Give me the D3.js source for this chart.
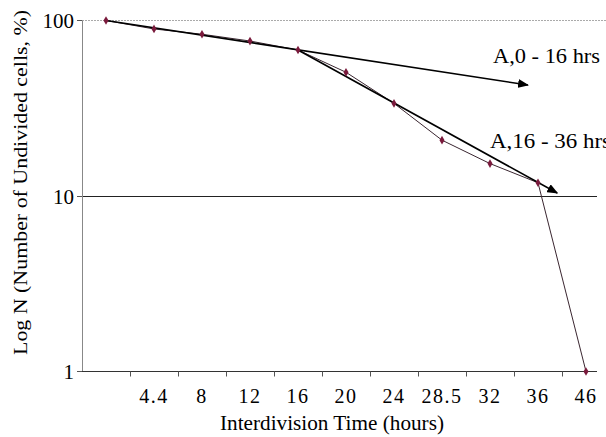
<!DOCTYPE html>
<html lang="en">
<head>
<meta charset="UTF-8" />
<title>Interdivision Time</title>
<script src="https://d3js.org/d3.v7.min.js"></script>
<style>
    body { margin: 0; background: #fff; }
    svg { display: block; }
    text { font-family: "Liberation Serif", "DejaVu Serif", serif; }
</style>
</head>
<body>
<svg id="chart" width="606" height="437"></svg>
<script>
// categories on the x axis (hours); first one has no label
const hours = ["0", "4.4", "8", "12", "16", "20", "24", "28.5", "32", "36", "46"];
// percentage of undivided cells
const undivided = [100, 89.5, 83.5, 76.4, 67.9, 50.7, 33.7, 20.8, 15.3, 11.9, 1];
// trend arrows: [start index, start value, end index, end value]
const trendA = [0, 100, 8.79, 42.9];
const trendB = [4, 67.9, 9.4, 10.4];
const trendLabels = ["A,0 - 16 hrs", "A,16 - 36 hrs"];
const yTicks = [1, 10, 100];

const svg = d3.select("#chart");
const mLeft = 82, mRight = 610, mTop = 20.5, mBottom = 371.5;

const x = d3.scaleBand().domain(hours).range([mLeft, mRight]);
const xi = i => mLeft + (i + 0.5) * x.step();
const y = d3.scaleLog().domain([1, 100]).range([mBottom, mTop]);
const crisp = v => Math.round(v - 0.5) + 0.5;

svg.append("defs").append("marker")
    .attr("id", "arrow")
    .attr("viewBox", "0 0 10 10")
    .attr("refX", 9).attr("refY", 5)
    .attr("markerWidth", 11).attr("markerHeight", 9)
    .attr("markerUnits", "userSpaceOnUse")
    .attr("orient", "auto")
    .attr("preserveAspectRatio", "none")
    .append("path").attr("d", "M0,0 L10,5 L0,10 Z").attr("fill", "#000");

// gridlines
svg.append("line")
    .attr("x1", mLeft).attr("x2", 606)
    .attr("y1", crisp(y(100))).attr("y2", crisp(y(100)))
    .attr("stroke", "#aaa").attr("stroke-width", 1).attr("stroke-dasharray", "2,1");
svg.append("line")
    .attr("x1", mLeft).attr("x2", 597)
    .attr("y1", crisp(y(10))).attr("y2", crisp(y(10)))
    .attr("stroke", "#222").attr("stroke-width", 1);

// y axis
svg.append("line")
    .attr("x1", crisp(mLeft)).attr("x2", crisp(mLeft))
    .attr("y1", mTop).attr("y2", mBottom)
    .attr("stroke", "#888");
const yt = svg.append("g");
yt.selectAll("line").data(yTicks).join("line")
    .attr("x1", mLeft - 5).attr("x2", mLeft)
    .attr("y1", d => crisp(y(d))).attr("y2", d => crisp(y(d)))
    .attr("stroke", "#555");
yt.selectAll("text").data(yTicks).join("text")
    .attr("x", mLeft - 8).attr("y", d => y(d) + 7.5)
    .attr("text-anchor", "end")
    .attr("font-size", 21)
    .text(d => d);

// x axis
svg.append("line")
    .attr("x1", mLeft).attr("x2", 597)
    .attr("y1", crisp(mBottom)).attr("y2", crisp(mBottom))
    .attr("stroke", "#333");
const xt = svg.append("g");
xt.selectAll("line").data(hours.slice(1)).join("line")
    .attr("x1", d => crisp(x(d))).attr("x2", d => crisp(x(d)))
    .attr("y1", mBottom).attr("y2", mBottom + 5)
    .attr("stroke", "#555");
xt.selectAll("text").data(hours.slice(1)).join("text")
    .attr("x", d => x(d) + x.bandwidth() / 2)
    .attr("y", 403)
    .attr("text-anchor", "middle")
    .attr("font-size", 20)
    .attr("letter-spacing", 1.5)
    .text(d => d);

// axis titles
svg.append("text")
    .attr("x", 220).attr("y", 430)
    .attr("font-size", 20)
    .attr("textLength", 224)
    .attr("lengthAdjust", "spacingAndGlyphs")
    .text("Interdivision Time (hours)");
svg.append("text")
    .attr("transform", "translate(27,355) rotate(-90)")
    .attr("font-size", 18)
    .attr("textLength", 345)
    .attr("lengthAdjust", "spacingAndGlyphs")
    .text("Log N (Number of Undivided cells, %)");

// data line
svg.append("path")
    .datum(undivided)
    .attr("fill", "none")
    .attr("stroke", "#3a2630")
    .attr("stroke-width", 1)
    .attr("d", d3.line().x((d, i) => xi(i)).y(d => y(d)));

// trend arrows
[trendA, trendB].forEach(t => {
    svg.append("line")
        .attr("x1", xi(t[0])).attr("y1", y(t[1]))
        .attr("x2", xi(t[2])).attr("y2", y(t[3]))
        .attr("stroke", "#000").attr("stroke-width", 1.6)
        .attr("marker-end", "url(#arrow)");
});

// markers
svg.append("g").selectAll("path").data(undivided).join("path")
    .attr("transform", (d, i) => `translate(${xi(i)},${y(d)})`)
    .attr("d", d3.symbol(d3.symbolDiamond, 22))
    .attr("fill", "#7a1a3c");

// trend labels
svg.append("text")
    .attr("x", 493).attr("y", 63)
    .attr("font-size", 20)
    .attr("textLength", 107)
    .attr("lengthAdjust", "spacingAndGlyphs")
    .text(trendLabels[0]);
svg.append("text")
    .attr("x", 490).attr("y", 148)
    .attr("font-size", 20)
    .attr("textLength", 121)
    .attr("lengthAdjust", "spacingAndGlyphs")
    .text(trendLabels[1]);
</script>
</body>
</html>
